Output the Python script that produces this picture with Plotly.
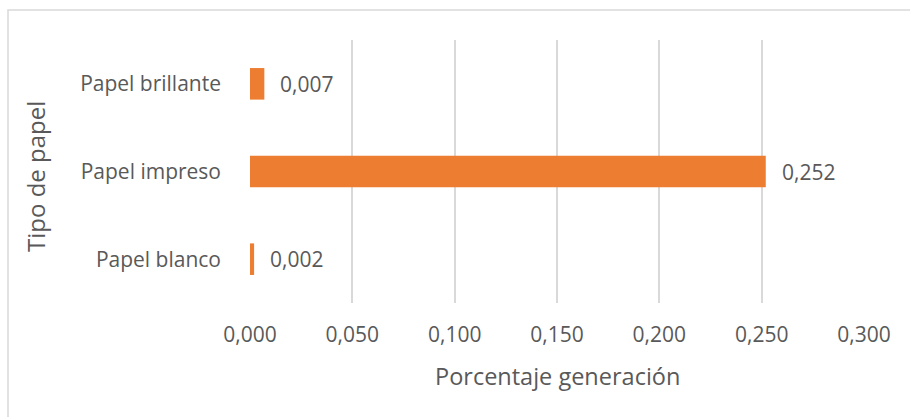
import plotly.graph_objects as go

# Paper types (bottom to top) and their share of generation
tipos = ["Papel blanco", "Papel impreso", "Papel brillante"]
porcentajes = [0.002, 0.252, 0.007]
ticks_x = [0.0, 0.05, 0.10, 0.15, 0.20, 0.25, 0.30]

W, H = 910, 417
ML, MR, MT, MB = 250, 46, 40, 114
PW, PH = W - ML - MR, H - MT - MB

GRAY = "#595959"
FONT = "Open Sans"

fig = go.Figure(
    go.Bar(
        x=porcentajes,
        y=tipos,
        orientation="h",
        marker=dict(color="#ED7D31", line=dict(width=0)),
        width=0.36,
        hoverinfo="x+y",
    )
)

# Value labels placed just to the right of each bar end
for tipo, valor in zip(tipos, porcentajes):
    fig.add_annotation(
        x=valor, y=tipo, xref="x", yref="y",
        text=f"{valor:.3f}".replace(".", ","),
        showarrow=False, xanchor="left", yanchor="middle", xshift=14,
        font=dict(family=FONT, size=21, color=GRAY),
    )

def px_x(p):
    return (p - ML) / PW

def px_y(p):
    return (H - MB - p) / PH

# Light outline of the chart area
fig.add_shape(
    type="rect", xref="paper", yref="paper",
    x0=px_x(8), x1=px_x(W + 10), y0=px_y(H + 10), y1=px_y(10),
    line=dict(color="#D9D9D9", width=1.5), fillcolor="rgba(0,0,0,0)",
    layer="below",
)

fig.add_annotation(
    text="Porcentaje generación", xref="paper", yref="paper",
    x=0.5, y=px_y(376), showarrow=False, xanchor="center", yanchor="middle",
    font=dict(family=FONT, size=23.5, color=GRAY),
)
fig.add_annotation(
    text="Tipo de papel", xref="paper", yref="paper",
    x=px_x(35), y=px_y(177), showarrow=False, textangle=-90,
    xanchor="center", yanchor="middle",
    font=dict(family=FONT, size=24, color=GRAY),
)

fig.update_layout(
    width=W, height=H,
    margin=dict(l=ML, r=MR, t=MT, b=MB),
    paper_bgcolor="white", plot_bgcolor="white",
    separators=",.",
    showlegend=False,
    font=dict(family=FONT, color=GRAY),
    xaxis=dict(
        range=[0, 0.3], tickvals=ticks_x, tickformat=".3f",
        showgrid=True, gridcolor="#D9D9D9", gridwidth=1.5,
        zeroline=False, showline=False, ticks="",
        tickfont=dict(family=FONT, size=21, color=GRAY),
        ticklabelstandoff=17,
    ),
    yaxis=dict(
        showgrid=False, zeroline=False, showline=False, ticks="",
        tickfont=dict(family=FONT, size=21, color=GRAY),
        ticklabelstandoff=28,
    ),
)

fig.write_html("out.html")
